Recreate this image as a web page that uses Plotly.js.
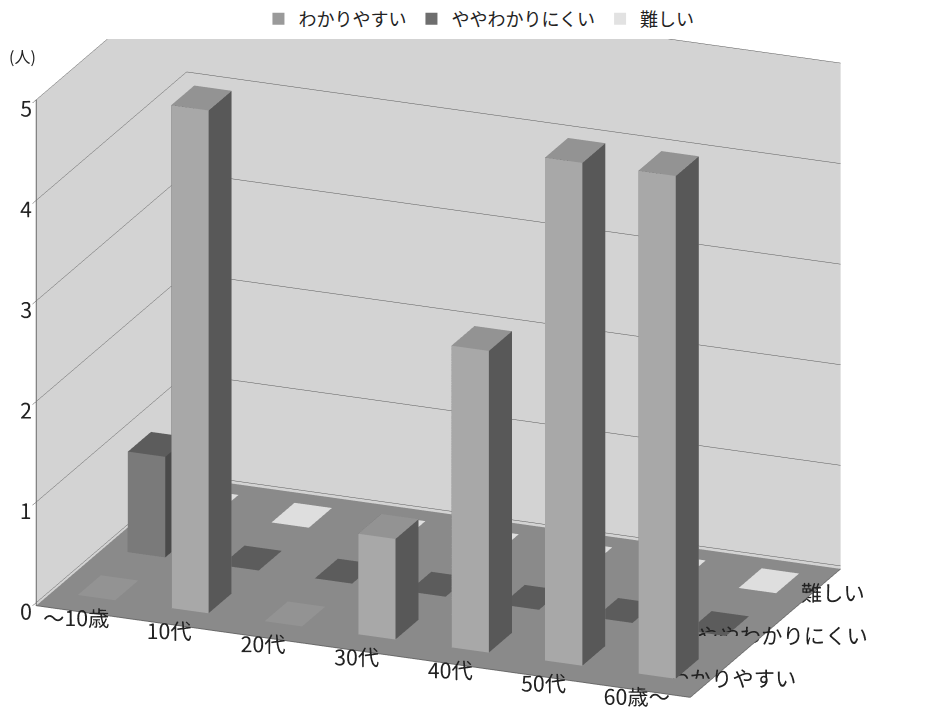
<!DOCTYPE html>
<html>
<head>
<meta charset="utf-8">
<script src="https://cdn.plot.ly/plotly-3.0.1.min.js"></script>
<style>
html,body{margin:0;padding:0;background:#fff;}
#chart{width:930px;height:713px;}
</style>
</head>
<body>
<div id="chart"></div>
<script>
// ---- data ----
const categories = ['〜10歳', '10代', '20代', '30代', '40代', '50代', '60歳〜'];
const seriesNames = ['わかりやすい', 'ややわかりにくい', '難しい'];
const easy = [0, 5, 0, 1, 3, 5, 5];          // わかりやすい
const somewhatHard = [1, 0, 0, 0, 0, 0, 0];  // ややわかりにくい
const hard = [0, 0, 0, 0, 0, 0, 0];          // 難しい
const zTicks = [0, 1, 2, 3, 4, 5];
const zTitle = '(人)';

// ---- styles ----
const FONT = '"Noto Sans CJK JP", "Noto Sans", sans-serif';
const seriesStyles = [
  {legend: '#9a9a9a', front: '#a8a8a8', side: '#585858', top: '#939393'},
  {legend: '#6e6e6e', front: '#7a7a7a', side: '#4a4a4a', top: '#5c5c5c'},
  {legend: '#e2e2e2', front: '#dcdcdc', side: '#bcbcbc', top: '#dedede'}
];
const HX = 0.2, HY = 0.23;

function boxTrace(values, row, style, name) {
  const X = [], Y = [], Z = [], I = [], J = [], K = [], FC = [];
  values.forEach((v, c) => {
    const b = X.length;
    const x0 = c - HX, x1 = c + HX, y0 = row - HY, y1 = row + HY, z0 = 0, z1 = v;
    const pts = [[x0,y0,z0],[x1,y0,z0],[x1,y1,z0],[x0,y1,z0],[x0,y0,z1],[x1,y0,z1],[x1,y1,z1],[x0,y1,z1]];
    pts.forEach(p => { X.push(p[0]); Y.push(p[1]); Z.push(p[2]); });
    const faces = [
      [[0,1,2],[0,2,3], style.top],
      [[4,5,6],[4,6,7], style.top],
      [[0,1,5],[0,5,4], style.front],
      [[3,2,6],[3,6,7], style.front],
      [[0,3,7],[0,7,4], style.side],
      [[1,2,6],[1,6,5], style.side]
    ];
    faces.forEach(f => {
      [f[0], f[1]].forEach(t => { I.push(b + t[0]); J.push(b + t[1]); K.push(b + t[2]); FC.push(f[2]); });
    });
  });
  return {
    type: 'mesh3d', x: X, y: Y, z: Z, i: I, j: J, k: K, facecolor: FC,
    flatshading: true, name: name, showlegend: false, hoverinfo: 'skip',
    lighting: {ambient: 1, diffuse: 0, specular: 0, roughness: 1, fresnel: 0},
    showscale: false
  };
}

const allSeries = [easy, somewhatHard, hard];
const traces = allSeries.map((vals, r) => boxTrace(vals, r, seriesStyles[r], seriesNames[r]));
// legend entries
seriesNames.forEach((n, r) => {
  traces.push({
    type: 'scatter3d', mode: 'markers', x: [null], y: [null], z: [null], name: n,
    marker: {symbol: 'square', size: 12, color: seriesStyles[r].legend},
    showlegend: true, hoverinfo: 'skip'
  });
});

const axisCommon = {
  showgrid: false, zeroline: false, showspikes: false, showline: true,
  linecolor: '#6a6a6a', linewidth: 2, ticks: '', tickcolor: '#444', ticklen: 5,
  tickangle: 0,
  tickfont: {family: FONT, size: 16, color: '#222'}, title: {text: ''},
  showbackground: true
};

const layout = {
  width: 930, height: 713,
  margin: {l: 0, r: 0, t: 0, b: 0},
  paper_bgcolor: '#fff',
  font: {family: FONT, color: '#222'},
  showlegend: true,
  legend: {orientation: 'h', x: 0.515, xanchor: 'center', y: 1.005, yanchor: 'top',
           font: {family: FONT, size: 18, color: '#222'}, itemwidth: 30, tracegroupgap: 0},
  scene: {
    domain: {x: [0, 1], y: [0, 0.95]},
    aspectmode: 'manual',
    aspectratio: {x: 2.094, y: 1.188, z: 1.6},
    camera: {eye: {x: 0.88, y: -1.962, z: 0.661}, center: {x: 0.085, y: 0, z: -0.12}, up: {x: 0, y: 0, z: 1},
             projection: {type: 'orthographic'}},
    xaxis: Object.assign({}, axisCommon, {
      range: [-0.5, 6.5], tickvals: categories.map((_, i) => i), ticktext: categories,
      backgroundcolor: '#d3d3d3'
    }),
    yaxis: Object.assign({}, axisCommon, {
      range: [-0.5, 2.5], tickvals: seriesNames.map((_, i) => i), ticktext: seriesNames,
      backgroundcolor: '#d3d3d3'
    }),
    zaxis: Object.assign({}, axisCommon, {
      range: [-0.03, 5], tickvals: zTicks, ticktext: zTicks.map(String),
      ticks: 'outside',
      showgrid: true, gridcolor: '#5a5a5a', gridwidth: 1,
      backgroundcolor: '#8a8a8a'
    })
  },
  annotations: [{
    text: zTitle, xref: 'paper', yref: 'paper', x: 0.008, y: 0.927, xanchor: 'left', yanchor: 'middle',
    showarrow: false, font: {family: FONT, size: 16, color: '#222'}
  }]
};

Plotly.newPlot('chart', traces, layout, {displayModeBar: false, staticPlot: false});
</script>
</body>
</html>
